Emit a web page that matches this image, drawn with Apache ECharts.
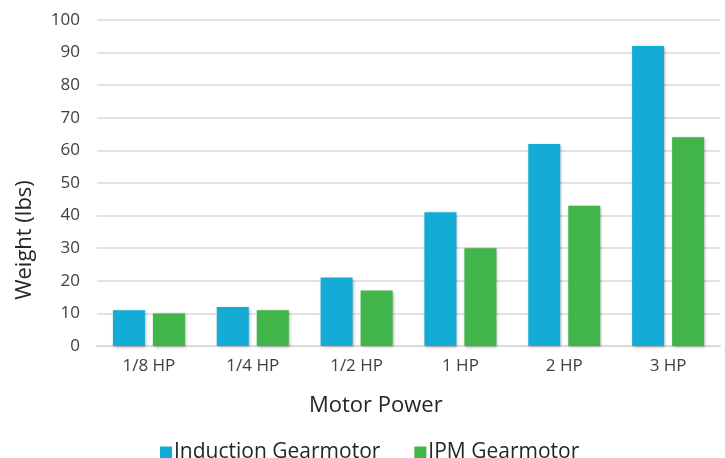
<!DOCTYPE html>
<html>
<head>
<meta charset="utf-8">
<script src="https://cdn.jsdelivr.net/npm/echarts@6/dist/echarts.min.js"></script>
<style>
  html, body { margin: 0; padding: 0; background: #fff; }
  #chart { width: 725px; height: 458px; }
</style>
</head>
<body>
<div id="chart"></div>
<script>
// chart data
const categories = ["1/8 HP", "1/4 HP", "1/2 HP", "1 HP", "2 HP", "3 HP"];
const inductionWeights = [11, 12, 21, 41, 62, 92];
const ipmWeights = [10, 11, 17, 30, 43, 64];
const seriesNames = ["Induction Gearmotor", "IPM Gearmotor"];

const font = "'Open Sans', Lato, sans-serif";
const shadow = {
  shadowBlur: 3,
  shadowColor: "rgba(0,0,0,0.35)",
  shadowOffsetX: 1,
  shadowOffsetY: 1,
};

const chart = echarts.init(document.getElementById("chart"));

const option = {
  animation: false,
  textStyle: { fontFamily: font },
  grid: { left: 97, right: 5, top: 20, bottom: 112 },
  legend: {
    data: seriesNames,
    left: 155,
    top: 437,
    icon: "rect",
    itemWidth: 12,
    itemHeight: 12,
    itemGap: 34,
    textStyle: { fontSize: 21, color: "#262626", fontFamily: font, padding: [0, 0, 0, -3] },
  },
  graphic: [
    {
      type: "text",
      left: 309,
      top: 395,
      style: { text: "Motor Power", fontSize: 22, fill: "#262626", fontFamily: font },
    },
    {
      type: "text",
      x: 25,
      y: 240,
      rotation: Math.PI / 2,
      style: {
        text: "Weight (lbs)",
        fontSize: 22,
        fill: "#262626",
        fontFamily: font,
        align: "center",
        verticalAlign: "middle",
      },
    },
  ],
  xAxis: {
    type: "category",
    data: categories,
    axisTick: { show: false },
    axisLine: { lineStyle: { color: "#d9d9d9", width: 2 } },
    axisLabel: { fontSize: 17, color: "#404040", margin: 12, fontFamily: font },
  },
  yAxis: {
    type: "value",
    min: 0,
    max: 100,
    interval: 10,
    axisLine: { show: false },
    axisTick: { show: false },
    splitLine: { lineStyle: { color: "#d9d9d9", width: 1.5 } },
    axisLabel: { fontSize: 17, color: "#404040", margin: 17, fontFamily: font },
  },
  series: [
    {
      name: seriesNames[0],
      type: "bar",
      data: inductionWeights,
      barWidth: 32,
      barGap: "25%",
      itemStyle: Object.assign({ color: "#14abd6" }, shadow),
    },
    {
      name: seriesNames[1],
      type: "bar",
      data: ipmWeights,
      barWidth: 32,
      barGap: "25%",
      itemStyle: Object.assign({ color: "#41b549" }, shadow),
    },
  ],
};

chart.setOption(option);
</script>
</body>
</html>
